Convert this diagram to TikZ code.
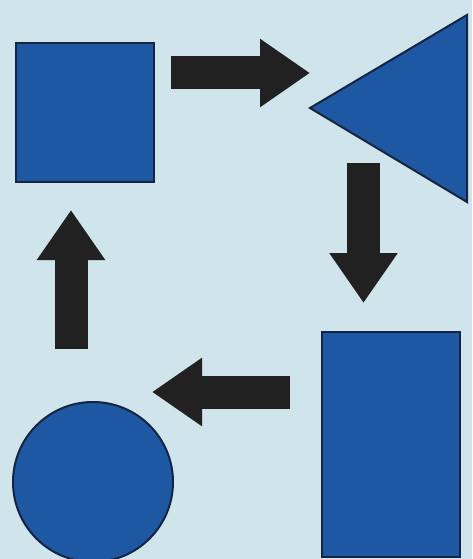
\documentclass[tikz,border=0pt]{standalone}
\usepackage{tikz}
\usetikzlibrary{arrows.meta,positioning}
\definecolor{paper}{RGB}{207,228,235}
\definecolor{shapeblue}{RGB}{30,88,163}
\definecolor{edgeblue}{RGB}{20,36,66}
\definecolor{ink}{RGB}{33,33,33}

\begin{document}
\begin{tikzpicture}[x=1pt,y=-1pt,
  shp/.style={draw=edgeblue,fill=shapeblue,line width=2pt,inner sep=0pt,outer sep=0pt},
  fat/.style={draw=ink,line width=33pt,-{Triangle[length=50pt,width=65pt]}}]
\useasboundingbox (0,0) rectangle (472,559);
\clip (0,0) rectangle (472,559);
\fill[paper] (0,0) rectangle (472,559);
\node[shp,minimum width=138pt,minimum height=139pt] (sq) at (85,112.5) {};
% triangle corners
\coordinate (apex) at (310,108); \coordinate (tritop) at (467,15); \coordinate (tribot) at (467,202);
\draw[shp,line join=miter] (apex) -- (tritop) -- (tribot) -- cycle;
\node[shp,minimum width=138pt,minimum height=225pt] (rect) at (391,444.5) {};
\node[shp,circle,minimum size=160pt] (circ) at (93,482) {};
% arrow ends
\coordinate (sqout) at (171,73);   \coordinate (triin) at (310,73);
\coordinate (triout) at (363.5,163); \coordinate (rectin) at (363.5,303);
\coordinate (rectout) at (290,392); \coordinate (circin) at (152,392);
\coordinate (circout) at (71,349); \coordinate (sqin) at (71,210);
\draw[fat] (sqout) -- (triin);
\draw[fat] (triout) -- (rectin);
\draw[fat] (rectout) -- (circin);
\draw[fat] (circout) -- (sqin);
\end{tikzpicture}
\end{document}
